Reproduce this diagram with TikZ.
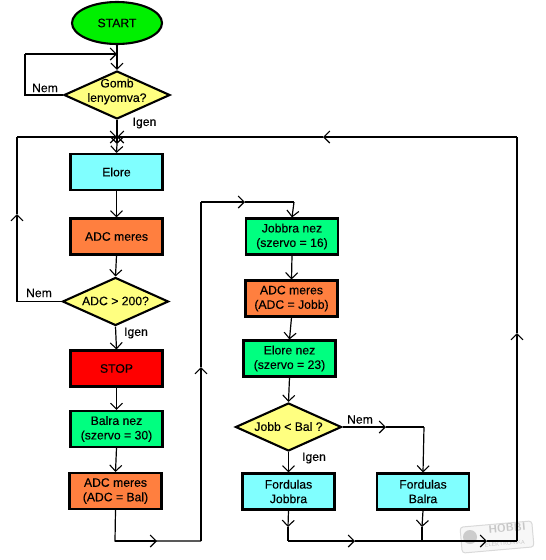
\documentclass[tikz,border=0pt]{standalone}
\usepackage{fontspec}
\setmainfont{Liberation Sans}[FakeBold=0.25]
\usetikzlibrary{arrows.meta,shapes.geometric}
\definecolor{startgreen}{HTML}{00F000}
\definecolor{boxcyan}{HTML}{80FFFF}
\definecolor{boxorange}{HTML}{FF7F3F}
\definecolor{boxgreen}{HTML}{00FF80}
\definecolor{boxyellow}{HTML}{FFFF80}
\tikzset{
  flowbox/.style={draw,line width=2.1pt,minimum width=92pt,minimum height=36pt,inner sep=0pt,align=center},
  decision/.style={draw,shape=diamond,line width=2.1pt,fill=boxyellow,minimum width=106pt,minimum height=48pt,inner sep=0pt},
  decisiontext/.style={align=center,inner sep=0pt},
  branch/.style={inner sep=0pt},
  conn/.style={line width=1.2pt},
  marktext/.style={text=black!22,inner sep=0pt},
}
\begin{document}
\begin{tikzpicture}[x=1pt,y=-1pt,>={Straight Barb[length=6pt,width=12pt,line width=1.1pt]},font=\fontsize{12.2}{14.5}\selectfont]
  \useasboundingbox (0,0) rectangle (546,560);

  % Watermark
  \node[draw=black!15,fill=black!3,line width=1pt,rounded corners=3pt,rotate=5,minimum width=72pt,minimum height=26pt] (mark) at (497,537) {};
  \fill[black!20] (470,537) circle[radius=7];
  \node[marktext,rotate=5,font=\sffamily\bfseries\fontsize{11}{11}\selectfont] (markhobbi) at (507,528) {HOBBI};
  \node[marktext,rotate=5,font=\sffamily\fontsize{5.5}{6}\selectfont] (markelek) at (505,543.5) {ELEKTRONIKA};

  % Left column
  \node[draw,shape=ellipse,line width=2.1pt,fill=startgreen,minimum width=90pt,minimum height=42pt,inner sep=0pt] (start) at (117,23) {START};
  \node[decision] (gomb) at (117,95) {};
  \node[decisiontext] (gombtext) at (117,91.5) {Gomb\\lenyomva?};
  \node[flowbox,fill=boxcyan] (elore) at (116.5,172) {Elore};
  \node[flowbox,fill=boxorange] (adc) at (116.5,236.5) {ADC meres};
  \node[decision] (adcdec) at (115.5,301.5) {};
  \node[decisiontext] (adcdectext) at (115.5,301) {ADC > 200?};
  \node[flowbox,fill=red] (stop) at (116.5,368.5) {STOP};
  \node[flowbox,fill=boxgreen] (balra) at (116.5,429) {Balra nez\\(szervo = 30)};
  \node[flowbox,fill=boxorange] (adcbal) at (115.5,491) {ADC meres\\(ADC = Bal)};

  % Right column
  \node[flowbox,fill=boxgreen] (jobbra) at (292,236.5) {Jobbra nez\\(szervo = 16)};
  \node[flowbox,fill=boxorange] (adcjobb) at (291.5,298.5) {ADC meres\\(ADC = Jobb)};
  \node[flowbox,fill=boxgreen] (elorenez) at (289.5,358.5) {Elore nez\\(szervo = 23)};
  \node[decision] (jobbdec) at (288.5,427) {};
  \node[decisiontext] (jobbdectext) at (288.5,426.5) {Jobb < Bal ?};
  \node[flowbox,fill=boxcyan] (fjobbra) at (288.5,491.5) {Fordulas\\Jobbra};
  \node[flowbox,fill=boxcyan] (fbalra) at (423,491.5) {Fordulas\\Balra};

  % Branch labels
  \node[branch] (nema) at (45,88) {Nem};
  \node[branch] (igena) at (144.5,123) {Igen};
  \node[branch] (nemb) at (39,293) {Nem};
  \node[branch] (igenb) at (136,333) {Igen};
  \node[branch] (nemc) at (360,419.5) {Nem};
  \node[branch] (igenc) at (314,458) {Igen};

  % Corners and chevrons along the lines
  \coordinate (gombjoin) at (117,54);
  \coordinate (nemleft) at (25,95);
  \coordinate (nemtop) at (25,54);
  \coordinate (cross) at (117,137);
  \coordinate (crossdown) at (117,144);
  \coordinate (backcorner) at (17,301.5);
  \coordinate (backup) at (17,214);
  \coordinate (backtop) at (17,137);
  \coordinate (balbottom) at (115,541);
  \coordinate (balright) at (157,541);
  \coordinate (riserbottom) at (201,541);
  \coordinate (riserup) at (201,367);
  \coordinate (risertop) at (201,202);
  \coordinate (riserright) at (245,202);
  \coordinate (jobbratop) at (294,202);
  \coordinate (nemright) at (386,427);
  \coordinate (nemcorner) at (424,427);
  \coordinate (fjobbradown) at (288,527);
  \coordinate (fjobbrabottom) at (288,541);
  \coordinate (fbalradown) at (422,527);
  \coordinate (fbalrabottom) at (422,541);
  \coordinate (bottomright) at (355,541);
  \coordinate (bottomfar) at (487,541);
  \coordinate (outcorner) at (517,541);
  \coordinate (outup) at (517,333);
  \coordinate (outtop) at (517,137);
  \coordinate (outleft) at (323,137);

  % Lines with a tip at their end
  \foreach \from/\to in {start.south/gomb.north,nemtop/gombjoin,gomb.south/crossdown,crossdown/elore.north,
    elore.south/adc.north,adc.south/adcdec.north,adcdec.south/stop.north,stop.south/balra.north,balra.south/adcbal.north,
    balbottom/balright,riserbottom/riserup,risertop/riserright,jobbratop/jobbra.north,
    jobbra.south/adcjobb.north,adcjobb.south/elorenez.north,elorenez.south/jobbdec.north,jobbdec.south/fjobbra.north,
    jobbdec.east/nemright,nemcorner/fbalra.north,
    fjobbra.south/fjobbradown,fbalra.south/fbalradown,
    fjobbrabottom/bottomright,bottomright/bottomfar,outcorner/outup,outtop/outleft,outleft/cross,
    backcorner/backup,backtop/cross}
    \draw[conn,->] (\from) -- (\to);

  % Plain lines
  \draw[conn] (gomb.west) -- (nemleft) -- (nemtop);
  \draw[conn] (backup) -- (backtop);
  \draw[conn] (adcdec.west) -- (backcorner);
  \draw[conn] (adcbal.south) -- (balbottom) -- (balright) -- (riserbottom);
  \draw[conn] (riserup) -- (risertop);
  \draw[conn] (riserright) -- (jobbratop);
  \draw[conn] (nemright) -- (nemcorner);
  \draw[conn] (fjobbradown) -- (fjobbrabottom);
  \draw[conn] (fbalradown) -- (fbalrabottom);
  \draw[conn] (bottomfar) -- (outcorner);
  \draw[conn] (outup) -- (outtop);
\end{tikzpicture}
\end{document}
